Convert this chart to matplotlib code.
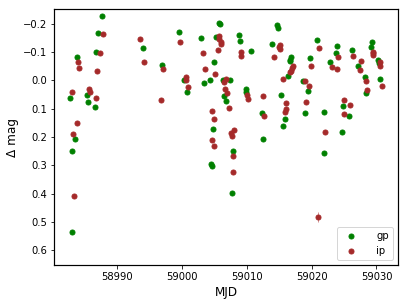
import numpy as np
import matplotlib
matplotlib.use("Agg")
import matplotlib.pyplot as plt
from matplotlib.lines import Line2D

# gp band
gp_mjd = [58982.66, 58982.91, 58983.06, 58983.48, 58983.74, 58985.37, 58985.48, 58986.52,
          58986.72, 58987.02, 58987.69, 58994.01, 58996.85, 58999.51, 59000.33, 59000.67,
          59002.91, 59003.32, 59004.29, 59004.45, 59004.68, 59004.71, 59004.86, 59005.22,
          59005.73, 59005.88, 59006.30, 59006.41, 59006.76, 59007.38, 59007.64, 59007.89,
          59008.81, 59008.92, 59009.80, 59009.89, 59010.57, 59012.27, 59012.42, 59013.93,
          59014.60, 59014.86, 59015.29, 59015.60, 59015.81, 59016.37, 59016.58, 59016.68,
          59016.86, 59018.64, 59018.90, 59019.41, 59019.79, 59020.84, 59021.83, 59021.87,
          59022.88, 59023.68, 59023.83, 59024.70, 59024.85, 59025.77, 59026.24, 59027.22,
          59028.23, 59028.35, 59029.23, 59029.32, 59030.25, 59030.39, 59030.62]
gp_mag = [0.063, 0.249, 0.536, 0.208, -0.082, 0.052, 0.078, 0.094,
          -0.100, -0.167, -0.226, -0.115, -0.056, -0.171, -0.001, 0.040,
          -0.149, 0.008, 0.000, 0.297, 0.301, 0.173, -0.065, -0.153,
          -0.203, -0.199, 0.000, 0.054, 0.072, 0.000, 0.397, 0.251,
          -0.159, -0.139, 0.031, 0.042, -0.102, 0.114, 0.206, -0.128,
          -0.195, -0.184, 0.050, 0.161, 0.136, -0.014, -0.068, -0.071,
          -0.084, 0.002, 0.115, 0.039, -0.079, -0.143, 0.111, 0.258,
          -0.066, -0.096, -0.121, 0.184, 0.090, 0.126, -0.109, -0.052,
          -0.011, 0.043, -0.117, -0.137, -0.072, -0.063, -0.004]

# ip band
ip_mjd = [58982.94, 58983.12, 58983.28, 58983.68, 58983.89, 58984.05, 58985.64, 58985.74,
          58986.72, 58986.92, 58987.29, 58987.84, 58993.50, 58994.16, 58996.69, 58997.05,
          58999.71, 59000.55, 59000.64, 59000.90, 59003.14, 59003.52, 59004.53, 59004.63,
          59004.91, 59004.91, 59005.07, 59005.48, 59005.61, 59005.73, 59005.94, 59006.04,
          59006.45, 59006.81, 59006.56, 59006.99, 59007.18, 59007.56, 59007.64, 59008.07,
          59007.84, 59007.92, 59009.03, 59009.07, 59010.00, 59010.11, 59012.47, 59012.65,
          59014.12, 59014.89, 59015.09, 59015.04, 59015.50, 59015.83, 59015.97, 59016.04,
          59016.71, 59016.82, 59016.89, 59017.09, 59018.94, 59019.10, 59019.61, 59019.95,
          59020.95, 59021.06, 59022.07, 59023.11, 59023.91, 59024.03, 59024.91, 59025.04,
          59025.99, 59026.45, 59027.46, 59027.63, 59028.46, 59028.55, 59029.43, 59029.54,
          59029.54, 59030.51, 59030.56, 59030.82]
ip_mag = [0.042, 0.188, 0.407, 0.150, -0.064, -0.045, 0.031, 0.042,
          0.063, -0.033, -0.098, -0.164, -0.146, -0.065, 0.069, -0.039,
          -0.136, -0.013, 0.000, 0.025, -0.096, -0.039, 0.108, 0.209,
          0.137, 0.231, -0.024, -0.106, -0.158, -0.146, -0.134, -0.128,
          0.007, -0.004, 0.030, 0.046, 0.096, 0.187, 0.195, 0.174,
          0.267, 0.323, -0.099, -0.085, 0.051, 0.064, 0.055, 0.127,
          -0.081, -0.117, -0.126, -0.110, -0.006, 0.110, 0.101, 0.079,
          -0.028, -0.033, -0.042, -0.052, 0.003, 0.078, 0.021, -0.052,
          0.482, -0.114, 0.184, -0.046, -0.039, -0.083, 0.119, 0.069,
          0.087, -0.086, -0.038, -0.070, 0.002, 0.033, -0.090, -0.095,
          -0.101, -0.066, -0.052, 0.020]

gp_err = [0.002] * len(gp_mag)
ip_err = [0.002] * len(ip_mag)
ip_err[64] = 0.018

fig = plt.figure(figsize=(407 / 72, 305 / 72), dpi=72)
ax = fig.add_axes([0.1334, 0.131, 0.8436, 0.8395])

ax.errorbar(gp_mjd, gp_mag, yerr=gp_err, fmt='o', color='green', ms=5,
            ecolor=(0.0, 0.5, 0.0, 0.5), elinewidth=1)
ax.errorbar(ip_mjd, ip_mag, yerr=ip_err, fmt='o', color='brown', ms=5,
            ecolor=(0.65, 0.16, 0.16, 0.5), elinewidth=1)

ax.set_xlim(58980.25, 59033.27)
ax.set_ylim(0.652, -0.252)
ax.set_yticks([-0.2, -0.1, 0.0, 0.1, 0.2, 0.3, 0.4, 0.5, 0.6])
ax.set_xticks([58990, 59000, 59010, 59020, 59030])
ax.tick_params(labelsize=10)
for s in ax.spines.values():
    s.set_linewidth(1.2)

ax.set_xlabel('MJD', fontsize=12)
ax.set_ylabel('Δ mag', fontsize=12)
handles = [Line2D([], [], ls='none', marker='o', ms=5, color='green'),
           Line2D([], [], ls='none', marker='o', ms=5, color='brown')]
ax.legend(handles, ['gp', 'ip'], loc='lower right', fontsize=10, handletextpad=1.5)

fig.savefig('out.png', dpi=72)
